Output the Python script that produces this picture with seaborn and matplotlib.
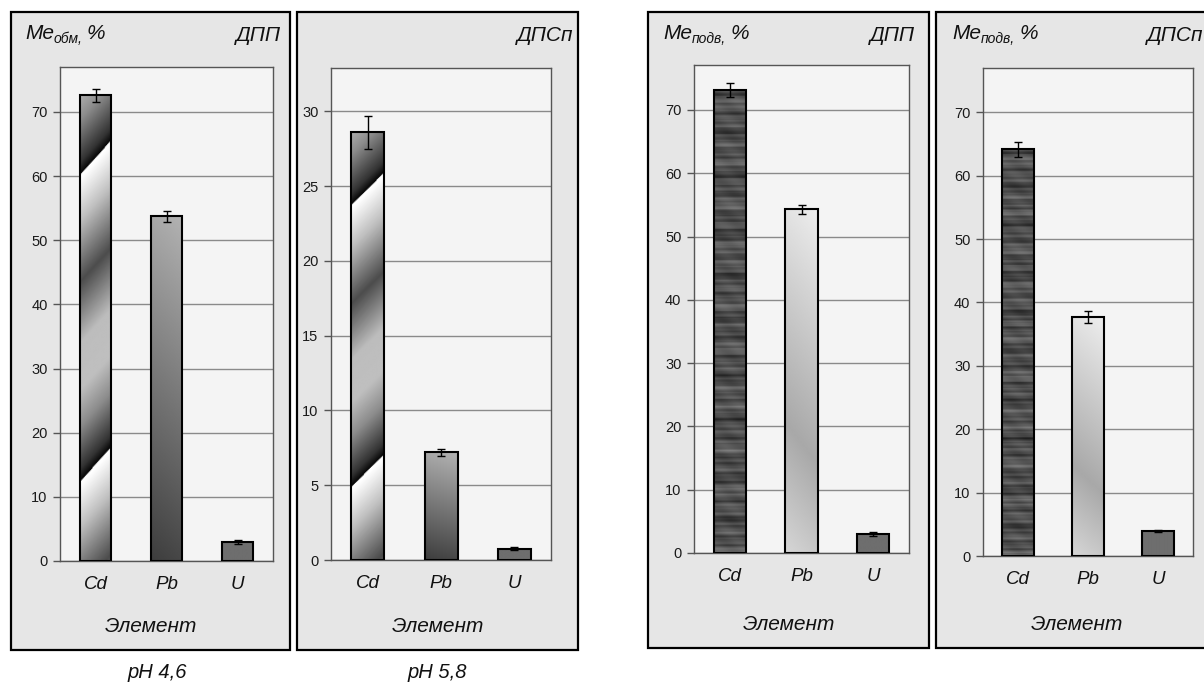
import numpy as np
import matplotlib
matplotlib.use("Agg")
import matplotlib.pyplot as plt
from matplotlib.patches import Rectangle
import seaborn as sns

sns.set_style("white")
plt.rcParams['font.family'] = ['Liberation Sans', 'DejaVu Sans']
plt.rcParams['text.color'] = '#111111'
plt.rcParams['xtick.color'] = '#111111'
plt.rcParams['ytick.color'] = '#111111'

# data
elements = ['Cd', 'Pb', 'U']
obm_dpp = [72.6, 53.7, 2.9]
obm_dpp_err = [1.0, 0.8, 0.3]
obm_dpsp = [28.6, 7.2, 0.75]
obm_dpsp_err = [1.1, 0.25, 0.1]
podv_dpp = [73.1, 54.3, 3.0]
podv_dpp_err = [1.1, 0.7, 0.3]
podv_dpsp = [64.2, 37.7, 3.9]
podv_dpsp_err = [1.2, 1.0, 0.15]

W, H = 1204, 683
fig = plt.figure(figsize=(W / 100, H / 100), dpi=100)


def fx(px):
    return px / W


def fy(py):
    return 1 - py / H


# fills for the bars (t = height fraction, u = width fraction)
def fill_diag(t, u):
    s = ((t - 0.075 * u - 0.17) / 0.66) % 1.0
    return np.interp(s, [0, 0.04, 0.18, 0.3, 0.45, 0.65, 0.85, 0.99, 1.0],
                     [0.02, 0.2, 0.55, 0.75, 0.74, 0.3, 0.75, 1.0, 1.0])


def fill_dark_vert(t, u):
    return 0.24 + 0.42 * t + 0.04 * u


def fill_solid(t, u):
    return np.full_like(t, 0.43)


def fill_texture(t, u):
    y = t * 460
    v = (0.31 + 0.05 * np.sin(y * 0.7) + 0.05 * np.sin(y * 0.31 + 1.0)
         + 0.035 * np.sin(y * 1.3 + 2.0) + 0.03 * np.sin(y * 0.13 + 0.5)
         + 0.025 * np.sin(u * 7 + y * 0.23) + 0.015 * np.sin(y * 2.3))
    return v


def fill_light_dip(t, u):
    d = t + 0.12 * u
    return np.interp(d, [0, 0.38, 1.12], [0.84, 0.66, 0.93])


# box (px), axes (px), ylim, ticks, values, fills, labels
panels = [
    dict(box=(11, 12, 290, 650), ax=(60, 67, 273, 561), ymax=77, step=10, top=70,
         vals=obm_dpp, err=obm_dpp_err,
         fills=[fill_diag, fill_dark_vert, fill_solid],
         me='обм,', me_x=25, tag='ДПП', tag_x=281, xlab_y=627),
    dict(box=(297, 12, 578, 650), ax=(331, 68, 551, 560), ymax=32.9, step=5, top=30,
         vals=obm_dpsp, err=obm_dpsp_err,
         fills=[fill_diag, fill_dark_vert, fill_solid],
         me=None, me_x=None, tag='ДПСп', tag_x=573, xlab_y=627),
    dict(box=(648, 12, 929, 648), ax=(694, 65, 909, 553), ymax=77.1, step=10, top=70,
         vals=podv_dpp, err=podv_dpp_err,
         fills=[fill_texture, fill_light_dip, fill_solid],
         me='подв,', me_x=663, tag='ДПП', tag_x=915, xlab_y=624),
    dict(box=(936, 12, 1217, 648), ax=(983, 68, 1193, 556), ymax=77, step=10, top=70,
         vals=podv_dpsp, err=podv_dpsp_err,
         fills=[fill_texture, fill_light_dip, fill_solid],
         me='подв,', me_x=952, tag='ДПСп', tag_x=1203, xlab_y=624),
]

# grey frames behind each chart
for p in panels:
    x0, y0, x1, y1 = p['box']
    fig.patches.append(Rectangle((fx(x0), fy(y1)), fx(x1 - x0), (y1 - y0) / H,
                                 transform=fig.transFigure, facecolor='#e6e6e6',
                                 edgecolor='black', linewidth=1.6, zorder=-5))

tt, uu = np.meshgrid(np.linspace(0, 1, 400), np.linspace(0, 1, 60), indexing='ij')

for p in panels:
    x0, y0, x1, y1 = p['ax']
    ax = fig.add_axes([fx(x0), fy(y1), fx(x1 - x0), (y1 - y0) / H])
    ax.set_zorder(2)
    ax.set_facecolor('#f4f4f4')
    sns.barplot(x=elements, y=p['vals'], ax=ax, width=0.45, color='gray',
                edgecolor='black', linewidth=1.5, errorbar=None, zorder=3)
    for bar, f in zip(ax.patches, p['fills']):
        bx, by = bar.get_x(), bar.get_y()
        bw, bh = bar.get_width(), bar.get_height()
        img = ax.imshow(f(tt, uu), extent=[bx, bx + bw, by, by + bh], origin='lower',
                        aspect='auto', cmap='gray', vmin=0, vmax=1, zorder=2.5,
                        interpolation='bilinear')
        img.set_clip_path(bar)
        bar.set_facecolor('none')
    ax.errorbar(range(len(elements)), p['vals'], yerr=p['err'], fmt='none',
                ecolor='black', elinewidth=1, capsize=3, capthick=1, zorder=4)
    ax.set_xlim(-0.5, 2.5)
    ax.set_ylim(0, p['ymax'])
    ax.set_yticks(np.arange(0, p['top'] + 0.1, p['step']))
    ax.set_axisbelow(True)
    ax.yaxis.grid(True, color='#8a8a8a', linewidth=1)
    ax.xaxis.grid(False)
    for sp in ax.spines.values():
        sp.set_color('#555555')
        sp.set_linewidth(1)
    ax.tick_params(axis='y', length=5, width=1, color='#555555', pad=4,
                   labelsize=10.5, labelcolor='#1a1a1a', left=True)
    ax.tick_params(axis='x', length=0, pad=11, labelsize=13.5, labelcolor='#111111')
    for lab in ax.get_xticklabels():
        lab.set_style('italic')
    ax.set_xlabel('')
    ax.set_ylabel('')
    # x-axis title, centred on the frame
    bx0, _, bx1, _ = p['box']
    fig.text(fx((bx0 + bx1) / 2), fy(p['xlab_y']), 'Элемент', ha='center', va='center',
             fontsize=15, style='italic')
    # tag in upper-right corner
    fig.text(fx(p['tag_x']), fy(41), p['tag'], ha='right', va='baseline',
             fontsize=15, style='italic')

# "Me_sub, %" labels built from pieces
fig.canvas.draw()
renderer = fig.canvas.get_renderer()
for p in panels:
    if p['me'] is None:
        continue
    t1 = fig.text(fx(p['me_x']), fy(39), 'Me', fontsize=15, style='italic', va='baseline')
    e1 = t1.get_window_extent(renderer)
    t2 = fig.text(e1.x1 / W, fy(43), p['me'], fontsize=10, style='italic', va='baseline')
    e2 = t2.get_window_extent(renderer)
    fig.text(e2.x1 / W + 4 / W, fy(39), '%', fontsize=15, style='italic', va='baseline')

fig.text(fx(157), fy(672), 'pH 4,6', ha='center', va='center', fontsize=14.5, style='italic')
fig.text(fx(437), fy(672), 'pH 5,8', ha='center', va='center', fontsize=14.5, style='italic')

fig.savefig('out.png', dpi=100)
